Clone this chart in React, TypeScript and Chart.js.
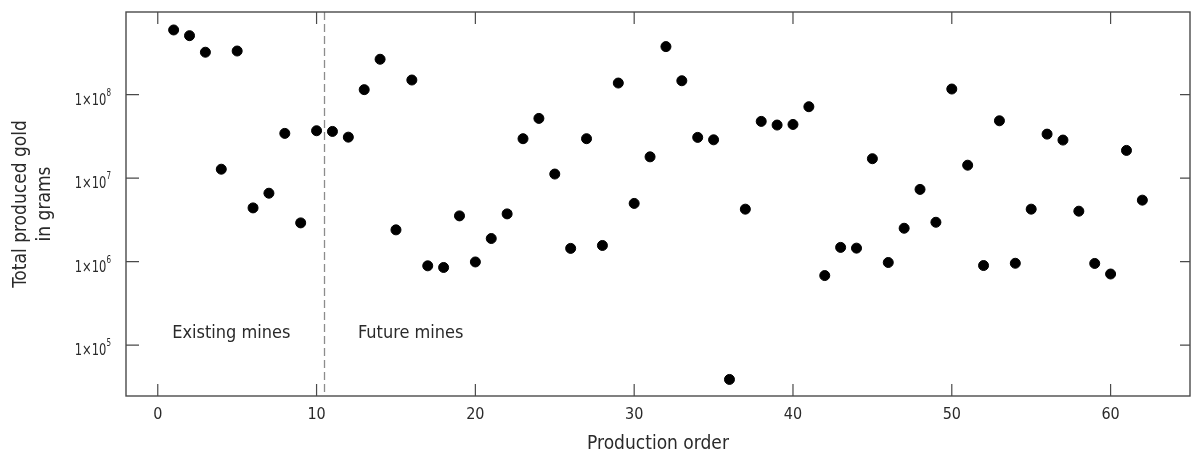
import React, { useEffect, useRef } from "react";
import { Chart, registerables } from "chart.js";

Chart.register(...registerables);

const productionOrder: number[] = Array.from({ length: 62 }, (_, i) => i + 1);
const goldGrams: number[] = [
  5.97e8, 5.1e8, 3.23e8, 1.28e7, 3.34e8, 4.4e6, 6.6e6, 3.44e7, 2.91e6, 3.7e7,
  3.63e7, 3.1e7, 1.15e8, 2.66e8, 2.4e6, 1.5e8, 8.9e5, 8.5e5, 3.53e6, 9.9e5,
  1.89e6, 3.73e6, 2.97e7, 5.2e7, 1.12e7, 1.44e6, 2.97e7, 1.56e6, 1.38e8, 4.98e6,
  1.8e7, 3.77e8, 1.47e8, 3.08e7, 2.88e7, 3.87e4, 4.25e6, 4.79e7, 4.33e7, 4.4e7,
  7.18e7, 6.8e5, 1.48e6, 1.45e6, 1.71e7, 9.75e5, 2.51e6, 7.33e6, 2.96e6, 1.17e8,
  1.43e7, 8.97e5, 4.87e7, 9.55e5, 4.25e6, 3.37e7, 2.86e7, 4.02e6, 9.5e5, 7.1e5,
  2.15e7, 5.45e6,
];
const xTicks: number[] = [0, 10, 20, 30, 40, 50, 60];
const yTicks: number[] = [1e5, 1e6, 1e7, 1e8];
const yTickBase = "1×10";
const yTickExponents: string[] = ["5", "6", "7", "8"];
const dividerX = 10.5;
const regionLabels: { text: string; x: number }[] = [
  { text: "Existing mines", x: 4.63 },
  { text: "Future mines", x: 15.93 },
];
const regionLabelY = 1.38e5;

const FONT = "'Liberation Sans Narrow', 'DejaVu Sans Condensed', 'Roboto Condensed', Roboto, sans-serif";
const AXIS = "#4a4a4a";
const TEXT = "#2a2a2a";

const framePlugin = {
  id: "frame",
  afterDraw(chart: any) {
    const { ctx, chartArea: a, scales } = chart;
    const xs = scales.x;
    const ys = scales.y;
    ctx.save();
    // dashed divider
    ctx.strokeStyle = "#8c8c8c";
    ctx.lineWidth = 1.3;
    ctx.setLineDash([8, 4]);
    const dx = xs.getPixelForValue(dividerX);
    ctx.beginPath();
    ctx.moveTo(dx, a.top);
    ctx.lineTo(dx, a.bottom);
    ctx.stroke();
    ctx.setLineDash([]);
    // frame
    ctx.strokeStyle = AXIS;
    ctx.lineWidth = 1.4;
    ctx.strokeRect(a.left, a.top, a.right - a.left, a.bottom - a.top);
    // inward ticks
    ctx.lineWidth = 1.2;
    ctx.beginPath();
    for (const v of xTicks) {
      const px = xs.getPixelForValue(v);
      ctx.moveTo(px, a.bottom);
      ctx.lineTo(px, a.bottom - 12);
      ctx.moveTo(px, a.top);
      ctx.lineTo(px, a.top + 12);
    }
    for (const v of yTicks) {
      const py = ys.getPixelForValue(v);
      ctx.moveTo(a.left, py);
      ctx.lineTo(a.left + 13, py);
      ctx.moveTo(a.right, py);
      ctx.lineTo(a.right - 10, py);
    }
    ctx.stroke();
    // y tick labels: 1×10 with superscript exponent (horizontally condensed)
    ctx.fillStyle = TEXT;
    ctx.textBaseline = "alphabetic";
    const sx = 0.8;
    yTicks.forEach((v, i) => {
      const py = ys.getPixelForValue(v);
      const right = a.left - 15;
      ctx.save();
      ctx.translate(right, py);
      ctx.scale(sx, 1);
      ctx.font = `10px ${FONT}`;
      const ew = ctx.measureText(yTickExponents[i]).width;
      ctx.textAlign = "left";
      ctx.fillText(yTickExponents[i], -ew, 1);
      ctx.font = `16px ${FONT}`;
      ctx.textAlign = "right";
      ctx.fillText(yTickBase, -ew, 10);
      ctx.restore();
    });
    // region labels
    ctx.fillStyle = TEXT;
    ctx.font = `18px ${FONT}`;
    ctx.textAlign = "center";
    ctx.textBaseline = "middle";
    for (const r of regionLabels) {
      ctx.fillText(r.text, xs.getPixelForValue(r.x), ys.getPixelForValue(regionLabelY));
    }
    ctx.restore();
  },
};

export default function App() {
  const ref = useRef<HTMLCanvasElement | null>(null);
  useEffect(() => {
    if (!ref.current) return;
    const chart = new Chart(ref.current, {
      type: "scatter",
      data: {
        datasets: [
          {
            data: productionOrder.map((x, i) => ({ x, y: goldGrams[i] })),
            backgroundColor: "#000",
            borderColor: "#000",
            pointRadius: 5,
            borderWidth: 1,
          },
        ],
      },
      options: {
        animation: false,
        responsive: false,
        layout: { autoPadding: false, padding: { top: 12, right: 1, left: 0, bottom: 0 } },
        plugins: { legend: { display: false }, tooltip: { enabled: false } },
        scales: {
          x: {
            type: "linear",
            min: -2,
            max: 65,
            afterBuildTicks: (s: any) => {
              s.ticks = xTicks.map((v) => ({ value: v }));
            },
            afterFit: (s: any) => {
              s.height = 58;
            },
            grid: { display: false, drawTicks: false },
            border: { display: false },
            ticks: {
              padding: 9,
              color: TEXT,
              font: { family: FONT, size: 16 },
              maxRotation: 0,
              autoSkip: false,
            },
            title: {
              display: true,
              text: "Production order",
              color: TEXT,
              font: { family: FONT, size: 19, lineHeight: 1.0 },
              padding: { top: 0, bottom: 0 },
            },
          },
          y: {
            type: "logarithmic",
            min: 2.45e4,
            max: 9.8e8,
            afterBuildTicks: (s: any) => {
              s.ticks = yTicks.map((v) => ({ value: v }));
            },
            afterFit: (s: any) => {
              s.width = 126;
            },
            grid: { display: false, drawTicks: false },
            border: { display: false },
            ticks: { display: false },
            title: {
              display: true,
              text: ["Total produced gold", "in grams"],
              color: TEXT,
              font: { family: FONT, size: 19, lineHeight: 1.26 },
              padding: { top: 9, bottom: 0 },
            },
          },
        },
      },
      plugins: [framePlugin],
    });
    return () => chart.destroy();
  }, []);
  return (
    <div style={{ position: "fixed", left: 0, top: 0, width: 1191, height: 454, background: "#fff" }}>
      <canvas ref={ref} width={1191} height={454} style={{ width: 1191, height: 454 }} />
    </div>
  );
}
